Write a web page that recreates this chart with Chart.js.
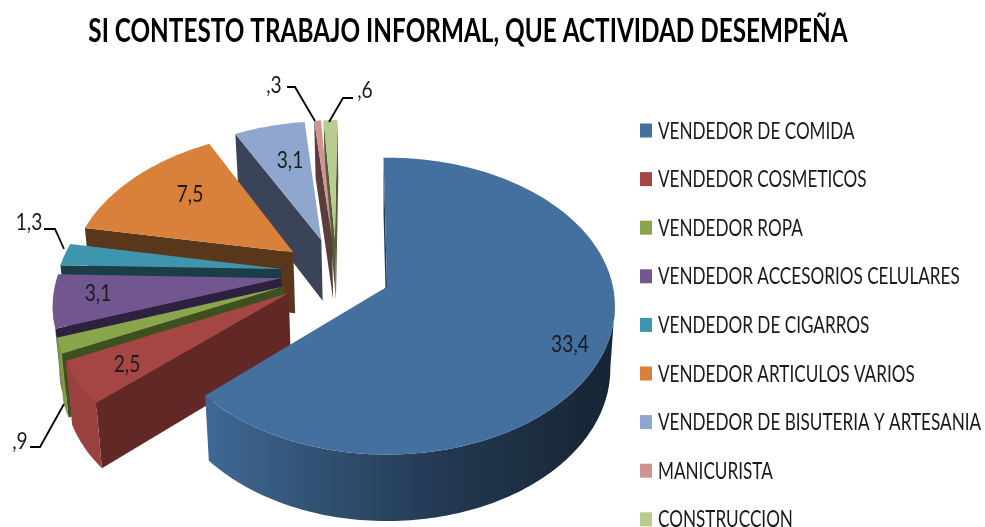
<!DOCTYPE html>
<html><head><meta charset="utf-8">
<style>html,body{margin:0;padding:0;background:#fff}#w{width:985px;height:527px;position:relative}</style>
<script src="https://cdn.jsdelivr.net/npm/chart.js@4"></script>
</head><body><div id="w"><canvas id="c" width="985" height="527"></canvas></div>
<script>
const chartTitle = 'SI CONTESTO TRABAJO INFORMAL, QUE ACTIVIDAD DESEMPEÑA';
const categories = ['VENDEDOR DE COMIDA','VENDEDOR COSMETICOS','VENDEDOR ROPA','VENDEDOR ACCESORIOS CELULARES','VENDEDOR DE CIGARROS','VENDEDOR ARTICULOS VARIOS','VENDEDOR DE BISUTERIA Y ARTESANIA','MANICURISTA','CONSTRUCCION'];
const values = [33.4,2.5,0.9,3.1,1.3,7.5,3.1,0.3,0.6];
const topColors = ['#44709f','#a64644','#8aa64c','#72568f','#4095ae','#d9813a','#8fa7ce','#d19391','#b7cc8e'];
const wallColors = ['#1d3b5c','#622826','#3f5020','#2e2140','#1a3d48','#58371a','#3a4358','#5a3c3c','#4f5f38'];
// label anchor centres and leader lines (annotation layout, not data)
const labelSpots = [[570,344],[127,364],[20,441],[98,293],[29,222],[190,194],[290,160],[274,85],[365,90]];
const leaders = [null,null,[[30,447],[40,447],[64,404]],null,[[44,229],[55,229],[64,249]],null,null,[[287,87],[295,87],[315,121]],[[353,98],[343,98],[329,122]]];

const R = 226, EXPLODE = 56, PERSP = 0.131, TILT = 146/226, DEPTH = 62;
const SHIFT_X = 51.5, SHIFT_Y = 22.6;   // pie centre → projection origin
const LEGEND_X = 640, LEGEND_Y = 130.5, LEGEND_STEP = 48.6;
const SQUEEZE = 0.745, LABEL_SQUEEZE = 0.8, TITLE_SQUEEZE = 0.76;

function hexRgb(h){return [1,3,5].map(i=>parseInt(h.substr(i,2),16));}
function shade(h,f){const c=hexRgb(h).map(v=>Math.round(v*f));return `rgb(${c[0]},${c[1]},${c[2]})`;}
function squeezedText(ctx,t,cx,y,font,sq,align){
  ctx.font=font;ctx.textAlign='left';ctx.textBaseline='alphabetic';
  const w=ctx.measureText(t).width*sq;
  const x=align==='center'?cx-w/2:cx;
  ctx.fillText(t,x,y,w);
}
const pie3d = {
  id:'pie3d',
  beforeDatasetDraw(chart){
    const ctx=chart.ctx, arcs=chart.getDatasetMeta(0).data;
    for(let i=arcs.length-1;i>=0;i--){
      const a=arcs[i];
      const Ox=a.x+SHIFT_X, Oy=a.y+SHIFT_Y;
      const mid=(a.startAngle+a.endAngle)/2;
      const ex=EXPLODE*Math.cos(mid), ey=EXPLODE*Math.sin(mid);
      const proj=(wx,wy)=>{const u=wx-Ox,v=wy-Oy,s=1/(1-PERSP*v/a.outerRadius);
        return {x:Ox+u*s,y:Oy+TILT*v*s,s};};
      const low=p=>({x:Ox+(p.x-Ox)*0.98,y:p.y+DEPTH*Math.sqrt(p.s)});
      const apex=proj(a.x+ex,a.y+ey);
      const n=Math.max(3,Math.ceil((a.endAngle-a.startAngle)/0.02));
      const pts=[];
      for(let k=0;k<=n;k++){const th=a.startAngle+(a.endAngle-a.startAngle)*k/n;
        pts.push(proj(a.x+ex+a.outerRadius*Math.cos(th),a.y+ey+a.outerRadius*Math.sin(th)));}
      const quad=(p,q,fill)=>{ctx.beginPath();ctx.moveTo(p.x,p.y);ctx.lineTo(q.x,q.y);
        const lq=low(q),lp=low(p);ctx.lineTo(lq.x,lq.y);ctx.lineTo(lp.x,lp.y);ctx.closePath();
        ctx.fillStyle=fill;ctx.fill();};
      // radial walls
      if(pts[0].x<apex.x) quad(apex,pts[0],wallColors[i]);
      if(apex.x<pts[n].x) quad(pts[n],apex,wallColors[i]);
      // outer wall
      let first=-1,last=-1;
      for(let k=0;k<n;k++){ if(pts[k+1].x<pts[k].x){ if(first<0)first=k; last=k+1; } }
      if(first>=0){
        const g=ctx.createLinearGradient(210,0,615,0);
        [[0,.93],[.27,.72],[.59,.5],[1,.32]].forEach(s=>g.addColorStop(s[0],shade(topColors[i],s[1])));
        ctx.beginPath();
        for(let k=first;k<=last;k++){k===first?ctx.moveTo(pts[k].x,pts[k].y):ctx.lineTo(pts[k].x,pts[k].y);}
        for(let k=last;k>=first;k--){const l=low(pts[k]);ctx.lineTo(l.x,l.y);}
        ctx.closePath();ctx.fillStyle=g;ctx.fill();
      }
      // top face
      ctx.beginPath();ctx.moveTo(apex.x,apex.y);pts.forEach(p=>ctx.lineTo(p.x,p.y));ctx.closePath();
      ctx.fillStyle=topColors[i];ctx.fill();
    }
    return false;
  },
  afterDraw(chart){
    const ctx=chart.ctx;
    ctx.save();
    ctx.fillStyle='#000';
    squeezedText(ctx,chartTitle,468,42,'bold 32px Lato',TITLE_SQUEEZE,'center');
    ctx.fillStyle='#1a1a1a';
    const fmt=v=>String(v).replace(/^0\./,',').replace('.',',');
    values.forEach((v,i)=>{
      squeezedText(ctx,fmt(v),labelSpots[i][0],labelSpots[i][1]+8,'24px Lato',LABEL_SQUEEZE,'center');
      if(leaders[i]){ctx.beginPath();leaders[i].forEach((p,j)=>j?ctx.lineTo(p[0],p[1]):ctx.moveTo(p[0],p[1]));
        ctx.strokeStyle='#000';ctx.lineWidth=1.8;ctx.stroke();}
    });
    categories.forEach((c,i)=>{
      const y=LEGEND_Y+LEGEND_STEP*i;
      ctx.fillStyle=topColors[i];ctx.fillRect(LEGEND_X,y-7,12,14);
      ctx.fillStyle='#1a1a1a';
      squeezedText(ctx,c,LEGEND_X+18,y+8,'23px Lato',SQUEEZE,'left');
    });
    ctx.restore();
  }
};
new Chart(document.getElementById('c'),{
  type:'pie',
  data:{labels:categories,datasets:[{data:values,backgroundColor:topColors,borderWidth:0,radius:R}]},
  options:{
    responsive:false,animation:false,rotation:-1,
    layout:{padding:{left:0,right:314,top:2,bottom:0}},
    plugins:{legend:{display:false},title:{display:false},tooltip:{enabled:false}}
  },
  plugins:[pie3d]
});
</script></body></html>
